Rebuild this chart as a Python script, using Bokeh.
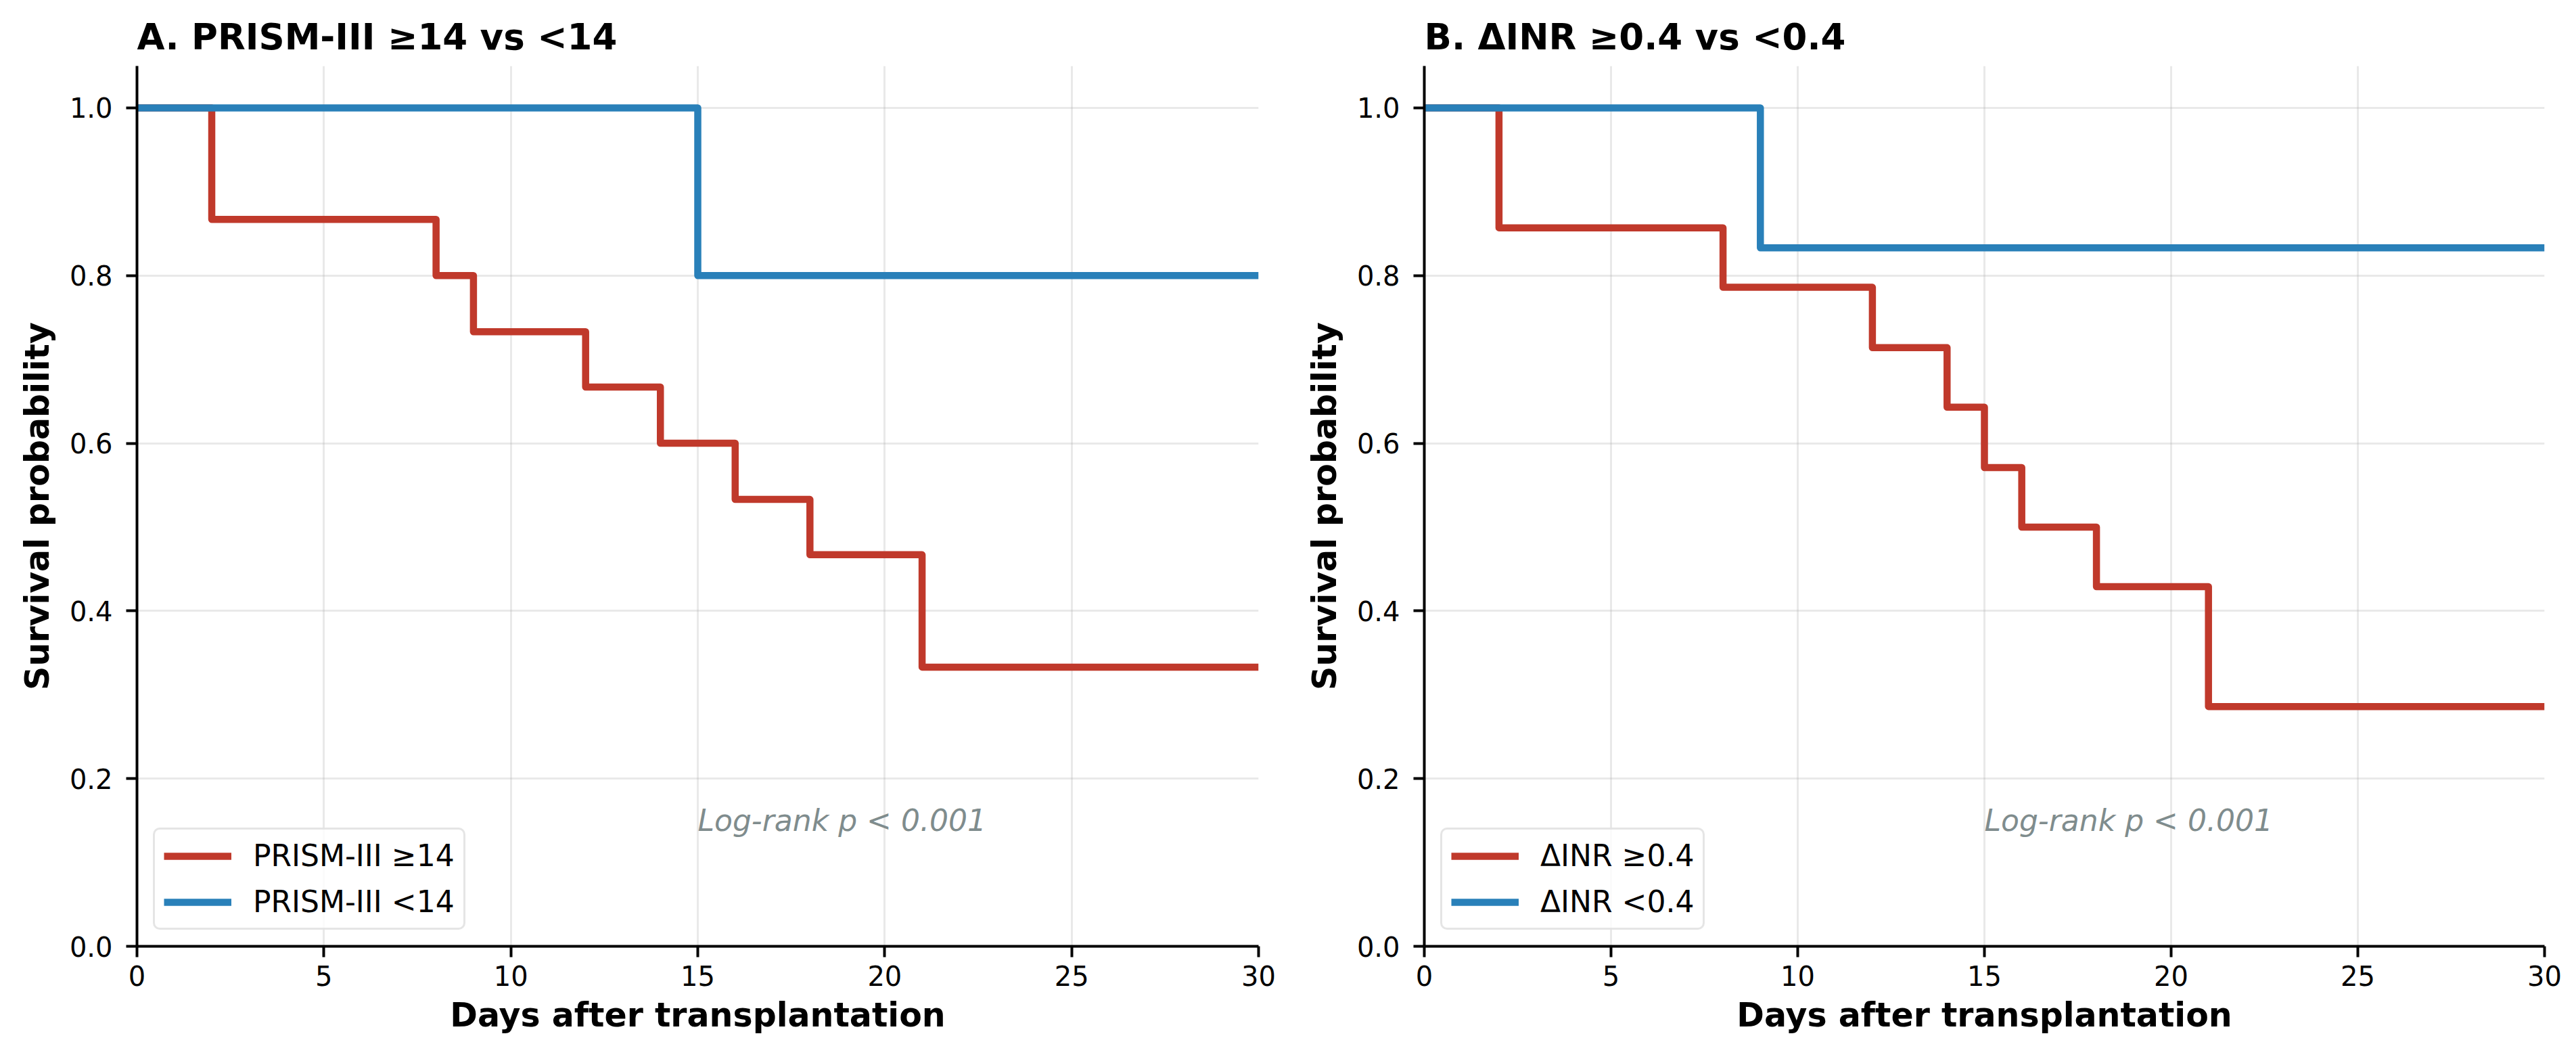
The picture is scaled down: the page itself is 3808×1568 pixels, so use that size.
from bokeh.plotting import figure
from bokeh.layouts import row
from bokeh.models import Range1d, FixedTicker, NumeralTickFormatter, ColumnDataSource
from bokeh.embed import file_html
from bokeh.resources import INLINE
from bokeh.core.properties import value

# ---- data ----
days_a_high = [0, 2, 8, 9, 12, 14, 16, 18, 21, 30]
surv_a_high = [1.0, 0.867, 0.800, 0.733, 0.667, 0.600, 0.533, 0.467, 0.333, 0.333]
days_a_low = [0, 15, 30]
surv_a_low = [1.0, 0.800, 0.800]

days_b_high = [0, 2, 8, 12, 14, 15, 16, 18, 21, 30]
surv_b_high = [1.0, 0.857, 0.786, 0.714, 0.643, 0.571, 0.500, 0.429, 0.286, 0.286]
days_b_low = [0, 9, 30]
surv_b_low = [1.0, 0.833, 0.833]

titles = ["A. PRISM-III \u226514 vs <14", "B. \u0394INR \u22650.4 vs <0.4"]
labels_a = ["PRISM-III \u226514", "PRISM-III <14"]
labels_b = ["\u0394INR \u22650.4", "\u0394INR <0.4"]
logrank_text = "Log-rank p < 0.001"
x_ticks = [0, 5, 10, 15, 20, 25, 30]
y_ticks = [0.0, 0.2, 0.4, 0.6, 0.8, 1.0]

RED = "#c0392b"
BLUE = "#2980b9"
FONT = "DejaVu Sans"


def make_panel(title, hi_t, hi_s, lo_t, lo_s, labels, border_left, border_right):
    p = figure(width=1900, height=1560, output_backend="svg", toolbar_location=None,
               x_range=Range1d(0, 30), y_range=Range1d(0, 1.05),
               min_border_left=border_left, min_border_right=border_right,
               min_border_top=97, min_border_bottom=162)
    p.outline_line_color = None
    p.background_fill_color = "white"
    p.border_fill_color = "white"

    p.title.text = title
    p.title.text_font = FONT
    p.title.text_font_size = "53px"
    p.title.text_font_style = "bold"
    p.title.text_color = "black"
    p.title.align = "left"
    p.title.offset = 0
    p.title.standoff = 25

    for ax in (p.xaxis[0], p.yaxis[0]):
        ax.axis_line_width = 4
        ax.axis_line_color = "black"
        ax.major_tick_line_width = 4
        ax.major_tick_line_color = "black"
        ax.major_tick_out = 16
        ax.major_tick_in = 0
        ax.minor_tick_line_color = None
        ax.major_label_text_font = FONT
        ax.major_label_text_font_size = "40px"
        ax.major_label_text_color = "black"
        ax.axis_label_text_font = FONT
        ax.axis_label_text_font_size = "49px"
        ax.axis_label_text_font_style = "bold"
        ax.axis_label_text_color = "black"

    p.xaxis.ticker = FixedTicker(ticks=x_ticks)
    p.yaxis.ticker = FixedTicker(ticks=y_ticks)
    p.yaxis.formatter = NumeralTickFormatter(format="0.0")
    p.xaxis.axis_label = "Days after transplantation"
    p.yaxis.axis_label = "Survival probability"
    p.xaxis.major_label_standoff = 12
    p.yaxis.major_label_standoff = 20
    p.xaxis.axis_label_standoff = 12
    p.yaxis.axis_label_standoff = 16

    for g in (p.xgrid[0], p.ygrid[0]):
        g.grid_line_color = "#b0b0b0"
        g.grid_line_alpha = 0.28
        g.grid_line_width = 3
    p.xgrid.ticker = FixedTicker(ticks=x_ticks)
    p.ygrid.ticker = FixedTicker(ticks=y_ticks)

    src_hi = ColumnDataSource(dict(t=hi_t, s=hi_s))
    src_lo = ColumnDataSource(dict(t=lo_t, s=lo_s))
    p.step(x="t", y="s", source=src_hi, mode="after", line_color=RED, line_width=10.5,
           line_join="round", legend_label=labels[0])
    p.step(x="t", y="s", source=src_lo, mode="after", line_color=BLUE, line_width=10.5,
           line_join="round", legend_label=labels[1])

    p.text(x=[15], y=[0.15], text=[logrank_text], text_font=value(FONT),
           text_font_size="44px", text_font_style="italic", text_color="#7f8c8d",
           text_baseline="alphabetic", text_align="left")

    lg = p.legend[0]
    lg.location = "bottom_left"
    lg.margin = 24
    lg.padding = 13
    lg.spacing = 17
    lg.glyph_width = 100
    lg.glyph_height = 50
    lg.label_height = 50
    lg.label_standoff = 32
    lg.label_text_font = FONT
    lg.label_text_font_size = "44px"
    lg.label_text_color = "black"
    lg.label_text_baseline = "middle"
    lg.border_line_color = "#cccccc"
    lg.border_line_width = 3
    lg.border_radius = 10
    lg.background_fill_color = "white"
    lg.background_fill_alpha = 0.8
    return p


pa = make_panel(titles[0], days_a_high, surv_a_high, days_a_low, surv_a_low, labels_a, 202, 40)
pb = make_panel(titles[1], days_b_high, surv_b_high, days_b_low, surv_b_low, labels_b, 205, 39)

layout = row(pa, pb)
open("out.html", "w").write(file_html(layout, INLINE))
